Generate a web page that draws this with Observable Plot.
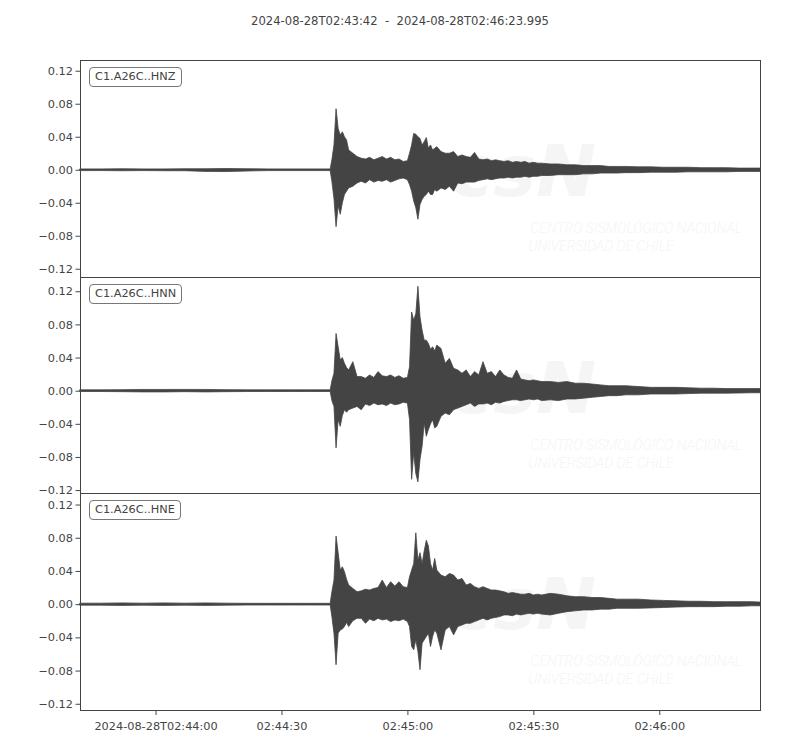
<!DOCTYPE html>
<html><head><meta charset="utf-8">
<script src="https://cdn.jsdelivr.net/npm/d3@7"></script>
<script src="https://cdn.jsdelivr.net/npm/@observablehq/plot@0.6"></script>
<style>
body{margin:0;background:#fff;font-family:"DejaVu Sans",sans-serif;color:#444}
#chart{width:800px;height:750px;position:relative;overflow:hidden;background:#fff}
.title{height:46px;padding-top:14px;text-align:center;font-size:11.6px;line-height:14px;white-space:pre;color:#444}
.panel{position:relative;width:800px}
.panel svg{display:block;overflow:visible;background:transparent}
.tag{position:absolute;left:89px;top:7px;border:1px solid #777;border-radius:4px;padding:0 5px;font-size:11.3px;line-height:17.5px;background:#fff;color:#444;white-space:pre}
</style></head><body><div id="chart"></div><script>
// ---- data ----
const startTime = "2024-08-28T02:43:42Z";
const endTime = "2024-08-28T02:46:23.995Z";
const titleText = "2024-08-28T02:43:42  -  2024-08-28T02:46:23.995";
const channels = ["C1.A26C..HNZ", "C1.A26C..HNN", "C1.A26C..HNE"];
const yTicks = [-0.12, -0.08, -0.04, 0, 0.04, 0.08, 0.12];
const xTickTimes = ["2024-08-28T02:44:00Z", "2024-08-28T02:44:30Z", "2024-08-28T02:45:00Z", "2024-08-28T02:45:30Z", "2024-08-28T02:46:00Z"];
const xTickLabels = ["2024-08-28T02:44:00", "02:44:30", "02:45:00", "02:45:30", "02:46:00"];
const watermarkTexts = ["csN", "CENTRO SISMOLÓGICO NACIONAL", "UNIVERSIDAD DE CHILE"];

// seconds after start time
const tSec = [
  0, 5, 10, 15, 20, 25, 30, 35, 40, 45, 50, 55, 59.6,
  60, 60.5, 61, 61.5, 62, 62.5, 63, 63.5, 64, 65, 66,
  67, 68, 69, 70, 71, 72, 73, 74, 75, 76, 77, 78,
  78.5, 79, 79.5, 80, 80.5, 81, 81.5, 82, 82.5, 83, 83.5, 84, 84.5, 85,
  86, 87, 88, 89, 90, 91, 92, 93, 94, 95, 96, 97, 98, 99, 100,
  101, 102, 103, 104, 105, 106, 107, 108, 109, 110,
  112, 114, 116, 118, 120, 122, 124, 126, 128, 130, 133, 136, 139, 142, 145, 148, 151, 154, 157, 160, 162
];

// envelope (upper / lower) of each trace
const hnzHigh = [
  0.0010, 0.0010, 0.0012, 0.0010, 0.0010, 0.0012, 0.0012, 0.0015, 0.0012, 0.0010, 0.0010, 0.0010, 0.0010,
  0.012, 0.030, 0.074, 0.050, 0.042, 0.046, 0.040, 0.036, 0.024, 0.020, 0.016,
  0.014, 0.013, 0.015, 0.012, 0.014, 0.016, 0.013, 0.015, 0.012, 0.013, 0.010, 0.011,
  0.020, 0.030, 0.044, 0.043, 0.040, 0.038, 0.030, 0.034, 0.039, 0.026, 0.030, 0.024, 0.026, 0.028,
  0.022, 0.020, 0.020, 0.022, 0.016, 0.018, 0.016, 0.015, 0.021, 0.013, 0.012, 0.013, 0.011, 0.012, 0.011,
  0.010, 0.011, 0.009, 0.010, 0.009, 0.010, 0.008, 0.009, 0.008, 0.008,
  0.007, 0.007, 0.006, 0.006, 0.005, 0.005, 0.005, 0.004, 0.004, 0.004, 0.0035, 0.0035, 0.003, 0.003, 0.003, 0.0025, 0.0025, 0.0025, 0.002, 0.002, 0.002
];
const hnzLow = [
  -0.0010, -0.0010, -0.0012, -0.0010, -0.0012, -0.0012, -0.0020, -0.0022, -0.0015, -0.0010, -0.0010, -0.0010, -0.0010,
  -0.014, -0.035, -0.069, -0.044, -0.054, -0.040, -0.030, -0.026, -0.022, -0.020, -0.016,
  -0.014, -0.016, -0.012, -0.015, -0.013, -0.014, -0.012, -0.015, -0.013, -0.011, -0.010, -0.012,
  -0.018, -0.026, -0.038, -0.046, -0.060, -0.042, -0.036, -0.032, -0.030, -0.026, -0.030, -0.030, -0.024, -0.026,
  -0.022, -0.024, -0.020, -0.026, -0.016, -0.017, -0.015, -0.015, -0.015, -0.013, -0.012, -0.011, -0.012, -0.011, -0.010,
  -0.010, -0.009, -0.010, -0.009, -0.009, -0.008, -0.009, -0.008, -0.008, -0.007,
  -0.007, -0.006, -0.006, -0.006, -0.005, -0.005, -0.004, -0.004, -0.004, -0.0035, -0.0035, -0.003, -0.003, -0.003, -0.0025, -0.0025, -0.0025, -0.0025, -0.002, -0.002, -0.002
];
const hnnHigh = [
  0.0010, 0.0010, 0.0012, 0.0015, 0.0015, 0.0015, 0.0015, 0.0012, 0.0010, 0.0010, 0.0010, 0.0010, 0.0010,
  0.012, 0.021, 0.069, 0.053, 0.037, 0.040, 0.033, 0.028, 0.025, 0.035, 0.017,
  0.017, 0.015, 0.019, 0.016, 0.023, 0.018, 0.017, 0.019, 0.016, 0.018, 0.015, 0.016,
  0.029, 0.095, 0.085, 0.093, 0.126, 0.089, 0.073, 0.061, 0.061, 0.057, 0.050, 0.053, 0.048, 0.055,
  0.051, 0.033, 0.039, 0.027, 0.025, 0.021, 0.025, 0.017, 0.023, 0.019, 0.035, 0.021, 0.023, 0.017, 0.025,
  0.019, 0.016, 0.015, 0.025, 0.014, 0.013, 0.012, 0.013, 0.012, 0.011,
  0.011, 0.010, 0.011, 0.009, 0.009, 0.008, 0.007, 0.006, 0.006, 0.006, 0.005, 0.004, 0.004, 0.004, 0.0035, 0.003, 0.003, 0.0025, 0.0025, 0.0025, 0.0025
];
const hnnLow = [
  -0.0010, -0.0010, -0.0012, -0.0015, -0.0015, -0.0012, -0.0015, -0.0012, -0.0010, -0.0010, -0.0010, -0.0010, -0.0010,
  -0.012, -0.019, -0.069, -0.035, -0.043, -0.030, -0.023, -0.026, -0.023, -0.021, -0.019,
  -0.023, -0.016, -0.018, -0.015, -0.017, -0.016, -0.018, -0.015, -0.017, -0.016, -0.014, -0.015,
  -0.035, -0.107, -0.075, -0.100, -0.110, -0.083, -0.067, -0.039, -0.055, -0.047, -0.040, -0.035, -0.045, -0.043,
  -0.031, -0.027, -0.029, -0.023, -0.021, -0.019, -0.017, -0.015, -0.019, -0.016, -0.016, -0.015, -0.017, -0.014, -0.015,
  -0.013, -0.012, -0.011, -0.011, -0.012, -0.011, -0.010, -0.011, -0.010, -0.012,
  -0.011, -0.012, -0.010, -0.010, -0.009, -0.008, -0.007, -0.006, -0.006, -0.005, -0.005, -0.004, -0.004, -0.004, -0.0035, -0.003, -0.003, -0.003, -0.0028, -0.0025, -0.0025
];
const hneHigh = [
  0.0012, 0.0012, 0.0015, 0.0012, 0.0015, 0.0012, 0.0015, 0.0012, 0.0010, 0.0010, 0.0010, 0.0010, 0.0010,
  0.015, 0.029, 0.082, 0.062, 0.041, 0.045, 0.039, 0.030, 0.023, 0.019, 0.015,
  0.016, 0.018, 0.017, 0.019, 0.020, 0.029, 0.020, 0.027, 0.022, 0.027, 0.021, 0.020,
  0.033, 0.041, 0.049, 0.086, 0.053, 0.062, 0.049, 0.064, 0.077, 0.070, 0.049, 0.041, 0.055, 0.041,
  0.035, 0.033, 0.037, 0.035, 0.029, 0.031, 0.023, 0.025, 0.021, 0.019, 0.021, 0.019, 0.017, 0.017, 0.016,
  0.015, 0.013, 0.014, 0.013, 0.012, 0.012, 0.013, 0.011, 0.012, 0.011,
  0.013, 0.012, 0.010, 0.009, 0.009, 0.008, 0.008, 0.007, 0.006, 0.006, 0.006, 0.005, 0.0045, 0.004, 0.0035, 0.0035, 0.003, 0.003, 0.003, 0.003, 0.0025
];
const hneLow = [
  -0.0012, -0.0012, -0.0015, -0.0012, -0.0015, -0.0012, -0.0015, -0.0012, -0.0010, -0.0010, -0.0010, -0.0010, -0.0010,
  -0.015, -0.035, -0.073, -0.035, -0.031, -0.030, -0.027, -0.022, -0.027, -0.020, -0.017,
  -0.017, -0.023, -0.018, -0.020, -0.017, -0.019, -0.018, -0.021, -0.019, -0.020, -0.018, -0.021,
  -0.027, -0.051, -0.055, -0.043, -0.057, -0.079, -0.047, -0.043, -0.039, -0.035, -0.051, -0.039, -0.031, -0.035,
  -0.055, -0.031, -0.027, -0.037, -0.027, -0.025, -0.023, -0.023, -0.021, -0.019, -0.017, -0.019, -0.017, -0.016, -0.015,
  -0.013, -0.013, -0.014, -0.012, -0.013, -0.012, -0.011, -0.012, -0.011, -0.012,
  -0.013, -0.011, -0.009, -0.008, -0.007, -0.007, -0.006, -0.006, -0.005, -0.005, -0.005, -0.0045, -0.004, -0.0035, -0.003, -0.003, -0.003, -0.0025, -0.0025, -0.002, -0.002
];
const hnzDomain = [-0.130, 0.133];
const hnnDomain = [-0.1235, 0.1372];
const hneDomain = [-0.1275, 0.1339];

// ---- build ----
const t0 = new Date(startTime);
const t1 = new Date(endTime);
const xTickDates = xTickTimes.map(s => new Date(s));
function rows(hi, lo) {
  return tSec.map((s, i) => ({time: new Date(t0.getTime() + s * 1000), hi: hi[i], lo: lo[i]}));
}
const traces = [
  {name: channels[0], data: rows(hnzHigh, hnzLow), domain: hnzDomain},
  {name: channels[1], data: rows(hnnHigh, hnnLow), domain: hnnDomain},
  {name: channels[2], data: rows(hneHigh, hneLow), domain: hneDomain}
];

const chart = document.getElementById("chart");
const title = document.createElement("div");
title.className = "title";
title.textContent = titleText;
chart.appendChild(title);

const wmColor = "#f5f5f5";
const ink = "#444";

traces.forEach((tr, idx) => {
  const last = idx === traces.length - 1;
  const plotHeight = idx === 1 ? 216 : 217;
  const svg = Plot.plot({
    width: 800,
    height: plotHeight + (last ? 40 : 0),
    marginLeft: 80, marginRight: 40, marginTop: 0, marginBottom: last ? 40 : 0,
    style: {fontFamily: "DejaVu Sans", fontSize: "11.3px", color: ink, background: "transparent", overflow: "visible"},
    x: last
      ? {type: "utc", domain: [t0, t1], ticks: xTickDates, tickSize: 5, tickPadding: 6, label: null,
         tickFormat: d => xTickLabels[xTickDates.findIndex(t => +t === +d)]}
      : {type: "utc", domain: [t0, t1], axis: null},
    y: {domain: tr.domain, ticks: yTicks, tickFormat: ".2f", tickSize: 4.5, tickPadding: 3, label: null},
    marks: [
      Plot.text([watermarkTexts[0]], {text: d => d, frameAnchor: "top-left", dx: 370, dy: 112,
        textAnchor: "start", lineAnchor: "middle", fontSize: 72, fontWeight: "bold", fontStyle: "italic", fill: wmColor}),
      Plot.text([watermarkTexts[1]], {text: d => d, frameAnchor: "top-left", dx: 450, dy: 172,
        textAnchor: "start", lineAnchor: "bottom", fontFamily: "Roboto", fontWeight: 300, fontSize: 14, fontStyle: "italic", fill: wmColor}),
      Plot.text([watermarkTexts[2]], {text: d => d, frameAnchor: "top-left", dx: 448, dy: 190,
        textAnchor: "start", lineAnchor: "bottom", fontFamily: "Roboto", fontWeight: 300, fontSize: 14, fontStyle: "italic", fill: wmColor}),
      Plot.areaY(tr.data, {x: "time", y1: "lo", y2: "hi", fill: ink, stroke: ink, strokeWidth: 0.8, curve: "linear"}),
      Plot.frame({stroke: ink, strokeWidth: 1})
    ]
  });
  const wrap = document.createElement("div");
  wrap.className = "panel";
  wrap.appendChild(svg);
  const tag = document.createElement("div");
  tag.className = "tag";
  tag.textContent = tr.name;
  wrap.appendChild(tag);
  chart.appendChild(wrap);
});
</script></body></html>
